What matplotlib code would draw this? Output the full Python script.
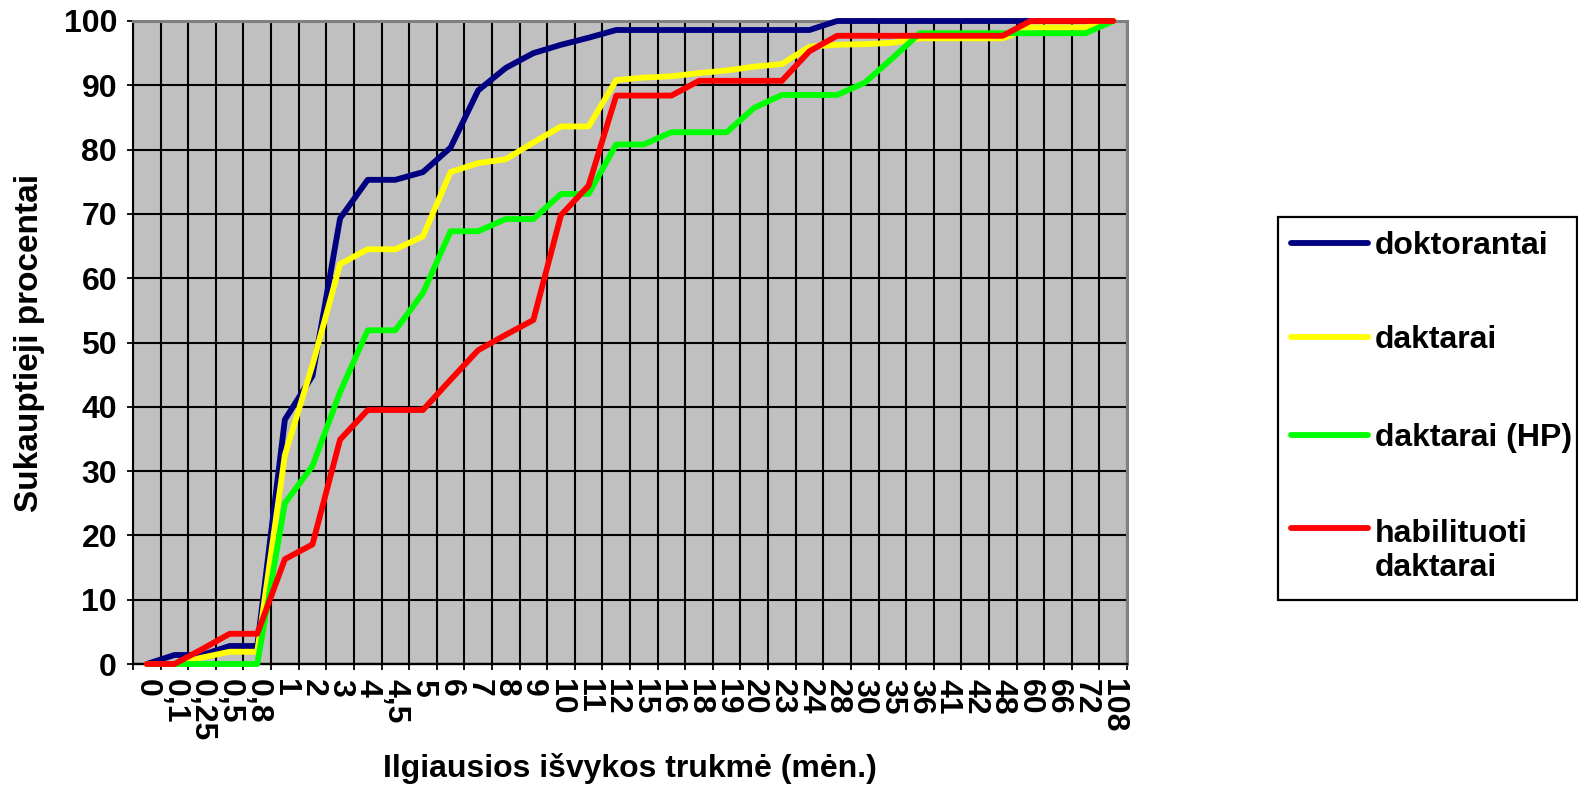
import matplotlib
matplotlib.use('Agg')
import matplotlib.pyplot as plt
from matplotlib.patches import Rectangle
from matplotlib.lines import Line2D

plt.rcParams['font.family'] = ['Liberation Sans', 'DejaVu Sans']
plt.rcParams['font.weight'] = 'bold'

# x categories: longest stay abroad (months)
categories = ['0', '0,1', '0,25', '0,5', '0,8', '1', '2', '3', '4', '4,5', '5', '6', '7', '8',
              '9', '10', '11', '12', '15', '16', '18', '19', '20', '23', '24', '28', '30', '35',
              '36', '41', '42', '48', '60', '66', '72', '108']

# cumulative percentages
doktorantai = [0, 1.4, 1.4, 2.8, 2.8, 38.0, 44.8, 69.3, 75.3, 75.3, 76.5, 80.3, 89.2, 92.7,
               95.0, 96.3, 97.4, 98.6, 98.6, 98.6, 98.6, 98.6, 98.6, 98.6, 98.6, 100, 100, 100,
               100, 100, 100, 100, 100, 100, 100, 100]
daktarai = [0, 0, 1.0, 1.9, 1.9, 32.5, 46.5, 62.2, 64.5, 64.5, 66.5, 76.5, 77.9, 78.5,
            81.1, 83.6, 83.6, 90.8, 91.2, 91.4, 91.9, 92.3, 92.9, 93.3, 96.0, 96.3, 96.4, 96.6,
            97.3, 97.3, 97.3, 97.3, 99.0, 99.0, 99.0, 100]
daktarai_hp = [0, 0, 0, 0, 0, 25.0, 30.8, 42.3, 51.9, 51.9, 57.7, 67.3, 67.3, 69.2,
               69.2, 73.1, 73.1, 80.8, 80.8, 82.7, 82.7, 82.7, 86.5, 88.5, 88.5, 88.5, 90.4, 94.2,
               98.1, 98.1, 98.1, 98.1, 98.1, 98.1, 98.1, 100]
habilituoti = [0, 0, 2.3, 4.7, 4.7, 16.3, 18.6, 34.9, 39.5, 39.5, 39.5, 44.2, 48.8, 51.2,
               53.5, 69.8, 74.4, 88.4, 88.4, 88.4, 90.7, 90.7, 90.7, 90.7, 95.3, 97.7, 97.7, 97.7,
               97.7, 97.7, 97.7, 97.7, 100, 100, 100, 100]

labels = ['doktorantai', 'daktarai', 'daktarai (HP)', 'habilituoti\ndaktarai']
colors = ['#000080', '#FFFF00', '#00FF00', '#FF0000']
values = [doktorantai, daktarai, daktarai_hp, habilituoti]

W, H = 1578, 791
fig = plt.figure(figsize=(W / 100, H / 100), dpi=100)
ax = fig.add_axes([133 / W, 1 - 664 / H, (1127 - 133) / W, (664 - 21) / H])
ax.set_facecolor('#C0C0C0')

x = list(range(len(categories)))
for vals, col in zip(values, colors):
    ax.plot(x, vals, color=col, lw=4.2, solid_capstyle='round', solid_joinstyle='round',
            clip_on=False, zorder=3)

ax.set_xlim(-0.5, len(categories) - 0.5)
ax.set_ylim(0, 100)
ax.set_yticks(range(0, 101, 10))
ax.set_xticks(x)
ax.set_xticklabels(categories, rotation=-90, fontsize=23, fontweight='bold')
ax.set_xticks([i - 0.5 for i in range(len(categories) + 1)], minor=True)
ax.tick_params(axis='x', which='major', length=0, pad=11)
ax.tick_params(axis='x', which='minor', length=4.5, width=1.3, direction='out')
ax.tick_params(axis='y', length=4.5, width=1.3, pad=7, labelsize=23)
ax.grid(axis='y', which='major', color='black', lw=1.5)
ax.grid(axis='x', which='minor', color='black', lw=1.5)
ax.set_axisbelow(True)

for s in ['top', 'right']:
    ax.spines[s].set_color('#808080')
    ax.spines[s].set_linewidth(2.2)
ax.spines['left'].set_linewidth(1.5)
ax.spines['bottom'].set_linewidth(1.7)

ax.set_xlabel('Ilgiausios išvykos trukmė (mėn.)', fontsize=23, fontweight='bold')
ax.xaxis.set_label_coords(0.5, (664 - 768) / 643)
ax.xaxis.label.set_va('center')
ax.set_ylabel('Sukauptieji procentai', fontsize=24, fontweight='bold')
ax.yaxis.set_label_coords((30 - 133) / 994, 0.5)
ax.yaxis.label.set_va('center')

# legend box drawn in figure pixels
fig.add_artist(Rectangle((1278 / W, 1 - 600 / H), (1577 - 1278) / W, (600 - 217) / H,
                         transform=fig.transFigure, facecolor='white', edgecolor='black', lw=1.6))
handle_y = [243, 337, 435, 528]
text_y = [246, 340, 438, 551]
for lab, col, hy, ty in zip(labels, colors, handle_y, text_y):
    fig.add_artist(Line2D([1291 / W, 1368 / W], [1 - hy / H, 1 - hy / H], transform=fig.transFigure,
                          color=col, lw=4.2, solid_capstyle='round'))
    fig.text(1375 / W, 1 - ty / H, lab, fontsize=23, fontweight='bold', ha='left', va='center',
             linespacing=1.15)

fig.savefig('out.png', dpi=100)
